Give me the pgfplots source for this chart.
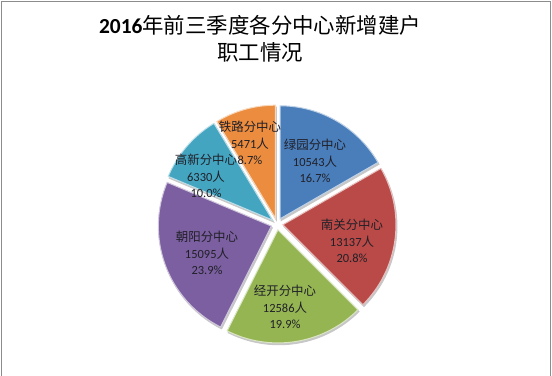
\documentclass[border=0pt]{standalone}
\usepackage{pgfplots}
\pgfplotsset{compat=1.18}
\usepackage{pgfplotstable}
\usepackage{fontspec}
\setmainfont{Carlito}
\newfontfamily\cjk{Noto Sans CJK SC}

\pgfplotstableread{
idx value pct
0 10543 16.7
1 13137 20.8
2 12586 19.9
3 15095 23.9
4 6330 10.0
5 5471 8.7
}\pietable

\definecolor{cA}{HTML}{4A7EBB}
\definecolor{cB}{HTML}{BA4A47}
\definecolor{cC}{HTML}{95B553}
\definecolor{cD}{HTML}{7C5FA0}
\definecolor{cE}{HTML}{44A5C1}
\definecolor{cF}{HTML}{EB8C3E}
\definecolor{lab}{HTML}{202028}

\newcommand\getv[2]{\pgfplotstablegetelem{#1}{value}\of\pietable\pgfmathsetmacro#2{\pgfplotsretval/1000}}
\getv{0}\vA \getv{1}\vB \getv{2}\vC \getv{3}\vD \getv{4}\vE \getv{5}\vF
\pgfmathsetmacro\tot{\vA+\vB+\vC+\vD+\vE+\vF}
\pgfmathsetmacro\aA{90}
\pgfmathsetmacro\aB{\aA-360*\vA/\tot}
\pgfmathsetmacro\aC{\aB-360*\vB/\tot}
\pgfmathsetmacro\aD{\aC-360*\vC/\tot}
\pgfmathsetmacro\aE{\aD-360*\vD/\tot}
\pgfmathsetmacro\aF{\aE-360*\vE/\tot}
\pgfmathsetmacro\aG{\aF-360*\vF/\tot}

% #1 colour, #2 start angle, #3 end angle
\newcommand\shadowslice[2]{%
  \pgfmathsetmacro\mid{(#1+#2)/2}%
  \pgfmathsetmacro\ox{277+6*cos(\mid)+1}%
  \pgfmathsetmacro\oy{152+6*sin(\mid)-1.8}%
  \edef\doit{\noexpand\addplot[fill=black!22, draw=black!22, line width=1pt, domain=#2:#1, samples=90]
    ({\ox+113*cos(x)},{\oy+113*sin(x)}) -- (axis cs:\ox,\oy) -- cycle;}%
  \doit}
\newcommand\slice[3]{%
  \pgfmathsetmacro\mid{(#2+#3)/2}%
  \pgfmathsetmacro\ox{277+6*cos(\mid)}%
  \pgfmathsetmacro\oy{152+6*sin(\mid)}%
  \edef\doit{\noexpand\addplot[fill=#1, draw=#1!35!white, line width=1pt, domain=#3:#2, samples=90]
    ({\ox+113*cos(x)},{\oy+113*sin(x)}) -- (axis cs:\ox,\oy) -- cycle;}%
  \doit}

\begin{document}
\begin{tikzpicture}
\begin{axis}[
  at={(0,0)}, anchor=south west,
  width=552bp, height=376bp, scale only axis,
  xmin=0, xmax=552, ymin=0, ymax=376,
  hide axis, clip=false,
]
\shadowslice{\aA}{\aB}
\shadowslice{\aB}{\aC}
\shadowslice{\aC}{\aD}
\shadowslice{\aD}{\aE}
\shadowslice{\aE}{\aF}
\shadowslice{\aF}{\aG}
\slice{cA}{\aA}{\aB}
\slice{cB}{\aB}{\aC}
\slice{cC}{\aC}{\aD}
\slice{cD}{\aD}{\aE}
\slice{cE}{\aE}{\aF}
\slice{cF}{\aF}{\aG}

\begin{scope}[every node/.style={align=center, text=lab, inner sep=0pt,
   font=\fontsize{12.5}{16.5}\selectfont}]
\node at (axis cs:315,215) {{\cjk 绿园分中心}\\10543{\cjk 人}\\16.7\%};
\node at (axis cs:352,135) {{\cjk 南关分中心}\\13137{\cjk 人}\\20.8\%};
\node at (axis cs:285,69) {{\cjk 经开分中心}\\12586{\cjk 人}\\19.9\%};
\node at (axis cs:207,123) {{\cjk 朝阳分中心}\\15095{\cjk 人}\\23.9\%};
\node at (axis cs:206,200) {{\cjk 高新分中心}\\6330{\cjk 人}\\10.0\%};
\node at (axis cs:250,233) {{\cjk 铁路分中心}\\5471{\cjk 人}\\8.7\%};
\end{scope}

\node[align=center, inner sep=0pt, font=\fontsize{21.5}{27}\selectfont]
  at (axis cs:260,337.5) {{\bfseries 2016}{\cjk 年前三季度各分中心新增建户}\\{\cjk 职工情况}};

\draw[black!45, line width=1.2pt] (axis cs:1.2,0) -- (axis cs:1.2,374.8) -- (axis cs:550.8,374.8) -- (axis cs:550.8,0);
\end{axis}
\pgfresetboundingbox
\path[use as bounding box] (0,0) rectangle (552bp,376bp);
\end{tikzpicture}
\end{document}
